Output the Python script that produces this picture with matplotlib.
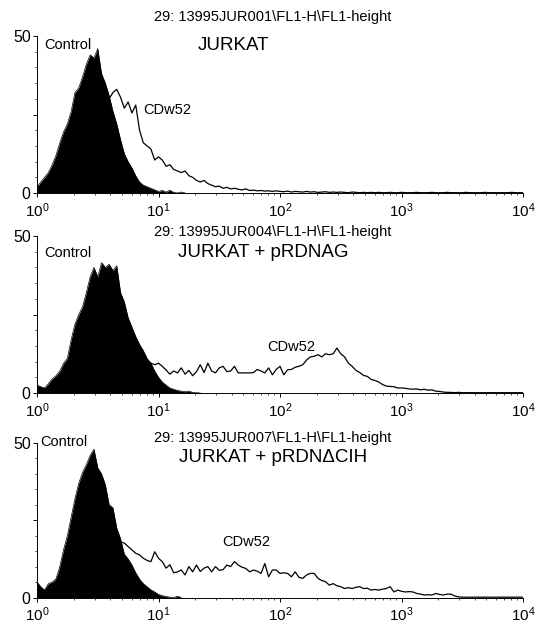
import numpy as np
import matplotlib
matplotlib.use('Agg')
import matplotlib.pyplot as plt
from matplotlib.ticker import FixedLocator, NullFormatter, LogLocator

plt.rcParams['font.family'] = ['Liberation Sans', 'DejaVu Sans']
plt.rcParams['mathtext.default'] = 'regular'

# histogram counts, 32 channels per decade starting at 10^0
control_1 = [2, 3.5, 5, 6.5, 9, 12, 16, 19.5, 22, 26,
             32, 33.5, 37, 41, 44, 43, 46, 38, 35, 31,
             26, 22, 17, 12.5, 10, 8, 5.5, 3.5, 2.5, 2,
             1.5, 1, 0.5, 0.8, 0.3, 0.9, 0.2, 0, 0.3, 0]
cdw52_1 = [1.5, 2.5, 4, 5.5, 7.5, 10, 13, 16, 19, 22,
           25, 28, 31, 34, 36, 38, 39, 37, 34, 30,
           32, 33, 30.5, 27, 29, 25.5, 28, 20, 16, 15,
           14, 10.5, 11.5, 10.5, 8.5, 9, 7.5, 7, 6.5, 7,
           5.5, 5, 4, 3.5, 4, 3, 2.5, 2, 2.2, 1.5,
           1.8, 1.3, 1.5, 1.2, 1, 1.3, 0.8, 0.9, 0.7, 0.8,
           0.6, 0.7, 0.5, 0.7, 0.5, 0.4, 0.6, 0.3, 0.5, 0.4,
           0.3, 0.5, 0.3, 0.4, 0.2, 0.3, 0.4, 0.2, 0.3, 0.2,
           0.3, 0.2, 0.1, 0.3, 0.2, 0.1, 0.2, 0.1, 0.2, 0.1,
           0.2, 0.1, 0.1, 0.2, 0.1, 0.1, 0.2, 0.1, 0.1, 0.1,
           0.2, 0.1, 0.1, 0.1, 0.2, 0.1, 0.1, 0.1, 0.2, 0.1,
           0.1, 0.1, 0.1, 0.2, 0.1, 0.1, 0.1, 0.1, 0.2, 0.1,
           0.1, 0.1, 0.1, 0.1, 0.1, 0.2, 0.1, 0.1, 0.1]

control_2 = [2.5, 2, 1.6, 3, 4.5, 5.5, 7, 9.5, 11, 17,
             22, 25, 27.5, 32, 37, 40, 37, 41.5, 40, 41,
             39, 40.5, 32, 29, 24, 21, 18, 15.5, 13.5, 11,
             9.5, 7, 5, 3.5, 2.5, 1.6, 1.2, 0.8, 0.6, 0.4,
             0.6, 0.2, 0.1, 0]
cdw52_2 = [1.5, 1.5, 1, 2, 3, 4, 5, 7, 9, 12,
           15, 18, 21, 24, 27, 29, 30, 31, 31, 30,
           29, 27, 25, 22, 19, 17, 15, 13, 11.5, 10,
           9.5, 9, 9.5, 8.5, 7.3, 6, 7, 6.4, 8, 6,
           7.2, 5.5, 6.8, 9, 6.5, 9.5, 7, 6.4, 8, 8.5,
           6.8, 7, 8.5, 6.4, 6.4, 6.4, 6.4, 6.5, 7.5, 7,
           6.4, 8, 5.8, 7.5, 8.5, 5.8, 7.4, 7.5, 8.2, 8.5,
           9, 10.5, 11.5, 11.7, 12.2, 11.5, 12.5, 12.2, 12.5, 14.3,
           12.5, 11.5, 9.5, 8.5, 7.2, 6.5, 5.6, 5.3, 4.3, 4,
           3.5, 2.7, 2.2, 2.1, 2, 1.6, 1.6, 1.5, 1.3, 1.2,
           1.3, 1, 1.2, 0.9, 1, 0.6, 0.5, 0.3, 0.2, 0.2,
           0.1, 0.2, 0.1, 0.1, 0.1, 0.1, 0.1, 0.1, 0.1, 0.1,
           0.1, 0.1, 0.1, 0.1, 0.1, 0.1, 0.1, 0.1, 0.1]

control_3 = [5, 3.5, 2.4, 4.5, 5, 6, 10, 15.5, 20, 26,
             32, 37, 40.5, 43, 46, 48, 42, 40, 36.5, 30,
             29, 22.5, 19, 14, 12.5, 10.5, 8, 6, 4.5, 3.5,
             2.5, 1.8, 1, 0.6, 0.3, 0.1, 0, 0.4, 0]
cdw52_3 = [3, 2.5, 2, 3.5, 4, 5, 8, 12, 17, 22,
           27, 31, 34, 36, 37, 37, 35, 32, 30, 26,
           25, 20.5, 18, 17.6, 16.5, 15.4, 14.3, 13.8, 12.7, 12,
           11.6, 14.8, 12.7, 11.6, 9.5, 10.6, 8, 8.3, 8.9, 7.3,
           10, 8.3, 10.5, 8.4, 9.5, 10, 8.3, 10, 8.8, 9,
           10.5, 10, 11.6, 10.5, 9.8, 9.4, 8.3, 8.9, 8.5, 7.8,
           11, 6.7, 8.9, 8.9, 7.8, 8, 7.8, 6.7, 8.3, 6.5,
           6.2, 7.3, 7.8, 7.8, 6.2, 5.5, 5.1, 4, 4.5, 3.8,
           3.5, 2.9, 3.2, 2.9, 3.3, 3.5, 2.9, 3, 2.4, 2.6,
           2.4, 2.7, 2.9, 3.5, 1.8, 2.4, 2, 1.8, 1.9, 1.8,
           1.3, 1.1, 0.8, 0.9, 0.8, 1.3, 1, 0.8, 1.1, 1.1,
           0.5, 0.2, 0.1, 0.1, 0.1, 0.1, 0.1, 0.1, 0.1, 0.1,
           0.1, 0.1, 0.1, 0.1, 0.1, 0.1, 0.1, 0.1, 0.1]

headers = ['29: 13995JUR001\\FL1-H\\FL1-height',
           '29: 13995JUR004\\FL1-H\\FL1-height',
           '29: 13995JUR007\\FL1-H\\FL1-height']
titles = ['JURKAT', 'JURKAT + pRDNAG', 'JURKAT + pRDN\u0394CIH']
decade_labels = ['$10^{0}$', '$10^{1}$', '$10^{2}$', '$10^{3}$', '$10^{4}$']

CH_PER_DECADE = 32
W, H = 537, 627
AX_LEFT, AX_RIGHT = 37, 523


def fx(px):
    return px / W


def fy(py):
    return 1 - py / H


def channels(counts):
    return 10 ** (np.arange(len(counts)) / CH_PER_DECADE)


def plotPanel(fig, top, bottom, control, cdw52, header, title,
              header_y, title_pos, control_pos, cdw_pos):
    ax = fig.add_axes([fx(AX_LEFT), fy(bottom), fx(AX_RIGHT) - fx(AX_LEFT), (bottom - top) / H])

    xc = channels(control)
    ax.fill_between(xc, control, 0, color='black', lw=0)
    ax.plot(xc, control, color='black', lw=0.5)
    ax.plot(channels(cdw52), cdw52, color='black', lw=0.9)

    ax.set_xscale('log')
    ax.set_xlim(1, 1e4)
    ax.set_ylim(0, 50)
    for s in ['top', 'right']:
        ax.spines[s].set_visible(False)
    for s in ['left', 'bottom']:
        ax.spines[s].set_linewidth(0.7)

    ax.xaxis.set_major_locator(FixedLocator([1, 10, 100, 1000, 10000]))
    ax.set_xticklabels(decade_labels, fontsize=11)
    ax.xaxis.set_minor_locator(LogLocator(base=10, subs=np.arange(2, 10)))
    ax.xaxis.set_minor_formatter(NullFormatter())

    ax.yaxis.set_major_locator(FixedLocator([0, 25, 50]))
    ax.set_yticklabels(['0', '', '50'], fontsize=11.5)
    ax.yaxis.set_minor_locator(FixedLocator(np.arange(5, 50, 5)))

    ax.tick_params(which='major', direction='out', length=3, width=0.7, pad=1.5)
    ax.tick_params(axis='x', which='major', pad=3)
    ax.tick_params(which='minor', direction='out', length=1.5, width=0.5)

    fig.text(fx(273), fy(header_y), header, ha='center', va='center', fontsize=10.5)
    fig.text(fx(title_pos[0]), fy(title_pos[1]), title, ha='left', va='center', fontsize=13.5)
    fig.text(fx(control_pos[0]), fy(control_pos[1]), 'Control', ha='left', va='center', fontsize=10.5)
    fig.text(fx(cdw_pos[0]), fy(cdw_pos[1]), 'CDw52', ha='left', va='center', fontsize=10.5)
    return ax


fig = plt.figure(figsize=(5.37, 6.27), dpi=100)

plotPanel(fig, 36, 193, control_1, cdw52_1, headers[0], titles[0],
          17, (198, 45), (44, 45), (143, 110))
plotPanel(fig, 236, 393, control_2, cdw52_2, headers[1], titles[1],
          231.5, (178, 253), (44, 253), (267, 347))
plotPanel(fig, 443, 597.5, control_3, cdw52_3, headers[2], titles[2],
          438, (179, 457), (40, 442), (222, 542))

fig.savefig('out.png', dpi=100)
